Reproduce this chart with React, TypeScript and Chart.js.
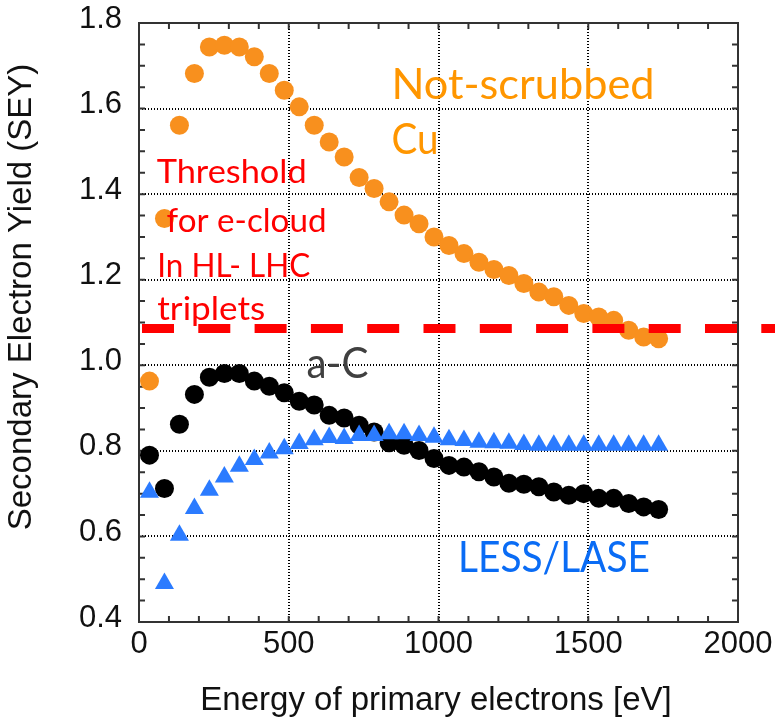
import React, { useEffect, useRef } from 'react';
import { Chart, registerables } from 'chart.js';

Chart.register(...registerables);

// ---- data ----
const energies = [35, 85, 135, 185, 235, 285, 335, 385, 435, 485, 535, 585, 635, 685, 735, 785, 835, 885, 935, 985, 1035, 1085, 1135, 1185, 1235, 1285, 1335, 1385, 1435, 1485, 1535, 1585, 1635, 1685, 1735];
const notScrubbedCu = [0.963, 1.343, 1.561, 1.682, 1.744, 1.748, 1.744, 1.721, 1.682, 1.643, 1.604, 1.561, 1.522, 1.487, 1.439, 1.413, 1.382, 1.351, 1.331, 1.300, 1.280, 1.261, 1.241, 1.224, 1.210, 1.191, 1.171, 1.160, 1.140, 1.121, 1.113, 1.105, 1.082, 1.066, 1.062];
const amorphousCarbon = [0.790, 0.712, 0.862, 0.932, 0.972, 0.981, 0.981, 0.963, 0.951, 0.936, 0.916, 0.907, 0.883, 0.877, 0.860, 0.844, 0.819, 0.813, 0.801, 0.782, 0.766, 0.762, 0.751, 0.739, 0.724, 0.722, 0.716, 0.704, 0.696, 0.700, 0.689, 0.689, 0.677, 0.669, 0.663];
const lessLase = [0.703, 0.490, 0.603, 0.665, 0.708, 0.739, 0.764, 0.780, 0.795, 0.805, 0.817, 0.826, 0.831, 0.829, 0.836, 0.836, 0.840, 0.840, 0.836, 0.832, 0.826, 0.824, 0.820, 0.819, 0.818, 0.815, 0.813, 0.813, 0.813, 0.813, 0.813, 0.813, 0.813, 0.813, 0.813];
const thresholdValue = 1.086;
const thresholdSpan = [10, 2130];
const xTicks = [0, 500, 1000, 1500, 2000];
const yTicks = [0.4, 0.6, 0.8, 1.0, 1.2, 1.4, 1.6, 1.8];
const xTitle = 'Energy of primary electrons [eV]';
const yTitle = 'Secondary Electron Yield (SEY)';

// ---- annotation texts (positions in data units) ----
const labels = [
  { text: 'Not-scrubbed', x: 843, y: 1.622, color: '#FF9600', size: 43, width: 263 },
  { text: 'Cu', x: 843, y: 1.494, color: '#FF9600', size: 43, width: 47 },
  { text: 'Threshold', x: 59, y: 1.425, color: '#FF0000', size: 32, width: 150 },
  { text: 'for e-cloud', x: 92, y: 1.311, color: '#FF0000', size: 32, width: 160 },
  { text: 'In HL- LHC', x: 61, y: 1.207, color: '#FF0000', size: 32, width: 153 },
  { text: 'triplets', x: 61, y: 1.106, color: '#FF0000', size: 32, width: 108 },
  { text: 'a-C', x: 559, y: 0.970, color: '#404040', size: 42, width: 62 },
  { text: 'LESS/LASE', x: 1065, y: 0.518, color: '#0A6CF5', size: 42, width: 192 },
];

const AXIS_FONT = '"Liberation Sans", Arial, sans-serif';

const decorPlugin = {
  id: 'decor',
  beforeDatasetsDraw(chart: any) {
    const { ctx, chartArea: a, scales } = chart;
    const xs = scales.x;
    const ys = scales.y;
    ctx.save();
    ctx.strokeStyle = '#333';
    ctx.lineWidth = 2;
    // minor ticks
    ctx.beginPath();
    for (let v = 100; v < 2000; v += 100) {
      const px = xs.getPixelForValue(v);
      ctx.moveTo(px, a.bottom);
      ctx.lineTo(px, a.bottom - 6);
      ctx.moveTo(px, a.top);
      ctx.lineTo(px, a.top + 6);
    }
    for (let i = 1; i < 28; i++) {
      const v = 0.4 + i * 0.05;
      const py = ys.getPixelForValue(v);
      ctx.moveTo(a.left, py);
      ctx.lineTo(a.left + 6, py);
      ctx.moveTo(a.right, py);
      ctx.lineTo(a.right - 6, py);
    }
    ctx.stroke();
    // frame
    ctx.strokeRect(a.left, a.top, a.right - a.left, a.bottom - a.top);
    ctx.restore();
  },
  afterDatasetsDraw(chart: any) {
    const { ctx, scales } = chart;
    ctx.save();
    for (const l of labels) {
      ctx.font = `${l.size}px Lato, "Open Sans", sans-serif`;
      ctx.fillStyle = l.color;
      ctx.textAlign = 'left';
      ctx.textBaseline = 'alphabetic';
      const m = ctx.measureText(l.text).width;
      ctx.save();
      ctx.translate(scales.x.getPixelForValue(l.x), scales.y.getPixelForValue(l.y));
      ctx.scale(l.width / m, 1);
      ctx.fillText(l.text, 0, 0);
      ctx.restore();
    }
    // axis titles
    ctx.fillStyle = '#111';
    ctx.font = `33px ${AXIS_FONT}`;
    ctx.textAlign = 'center';
    ctx.textBaseline = 'alphabetic';
    ctx.fillText(xTitle, 436, 710);
    ctx.save();
    ctx.translate(31, 297);
    ctx.rotate(-Math.PI / 2);
    ctx.fillText(yTitle, 0, 0);
    ctx.restore();
    ctx.restore();
  },
};

export default function App() {
  const ref = useRef<HTMLCanvasElement | null>(null);

  useEffect(() => {
    document.body.style.margin = '0';
    const canvas = ref.current;
    if (!canvas) return;
    const toPts = (ys: number[]) => energies.map((x, i) => ({ x, y: ys[i] }));
    const chart = new Chart(canvas, {
      type: 'scatter',
      data: {
        datasets: [
          {
            label: 'Threshold',
            data: thresholdSpan.map((x) => ({ x, y: thresholdValue })),
            showLine: true,
            borderColor: '#FF0000',
            borderWidth: 9,
            borderDash: [32, 24.3],
            borderCapStyle: 'butt',
            pointRadius: 0,
            clip: false,
          } as any,
          {
            label: 'LESS/LASE',
            data: toPts(lessLase),
            pointStyle: 'triangle',
            pointRadius: 11,
            backgroundColor: '#2B7BFF',
            borderColor: '#2B7BFF',
            borderWidth: 0,
          },
          {
            label: 'a-C',
            data: toPts(amorphousCarbon),
            pointStyle: 'circle',
            pointRadius: 9.5,
            backgroundColor: '#000000',
            borderColor: '#000000',
            borderWidth: 0,
          },
          {
            label: 'Not-scrubbed Cu',
            data: toPts(notScrubbedCu),
            pointStyle: 'circle',
            pointRadius: 9.5,
            backgroundColor: '#F8901E',
            borderColor: '#F8901E',
            borderWidth: 0,
          },
        ],
      },
      options: {
        responsive: false,
        animation: false,
        events: [],
        layout: { padding: { top: 23, right: 37, left: 0, bottom: 0 } },
        plugins: { legend: { display: false }, tooltip: { enabled: false } },
        scales: {
          x: {
            type: 'linear',
            min: 0,
            max: 2000,
            afterBuildTicks: (s: any) => {
              s.ticks = xTicks.map((value) => ({ value }));
            },
            afterFit: (s: any) => {
              s.height = 95;
              s.paddingLeft = 0;
              s.paddingRight = 0;
            },
            ticks: {
              padding: 4,
              color: '#111',
              font: { family: AXIS_FONT, size: 31 },
              maxRotation: 0,
              callback: (v: any) => String(v),
            },
            grid: { color: '#000', lineWidth: 2, drawTicks: false },
            border: { display: false, dash: [1, 2] },
          },
          y: {
            type: 'linear',
            min: 0.4,
            max: 1.8,
            afterBuildTicks: (s: any) => {
              s.ticks = yTicks.map((value) => ({ value }));
            },
            afterFit: (s: any) => {
              s.width = 139;
              s.paddingTop = 0;
              s.paddingBottom = 0;
            },
            ticks: {
              padding: 17,
              labelOffset: -4,
              color: '#111',
              font: { family: AXIS_FONT, size: 31 },
              callback: (v: any) => Number(v).toFixed(1),
            },
            grid: { color: '#000', lineWidth: 2, drawTicks: false },
            border: { display: false, dash: [1, 2] },
          },
        },
      },
      plugins: [decorPlugin],
    });
    return () => chart.destroy();
  }, []);

  return (
    <div style={{ width: 775, height: 717, background: '#fff' }}>
      <canvas ref={ref} width={775} height={717} style={{ display: 'block' }} />
    </div>
  );
}
